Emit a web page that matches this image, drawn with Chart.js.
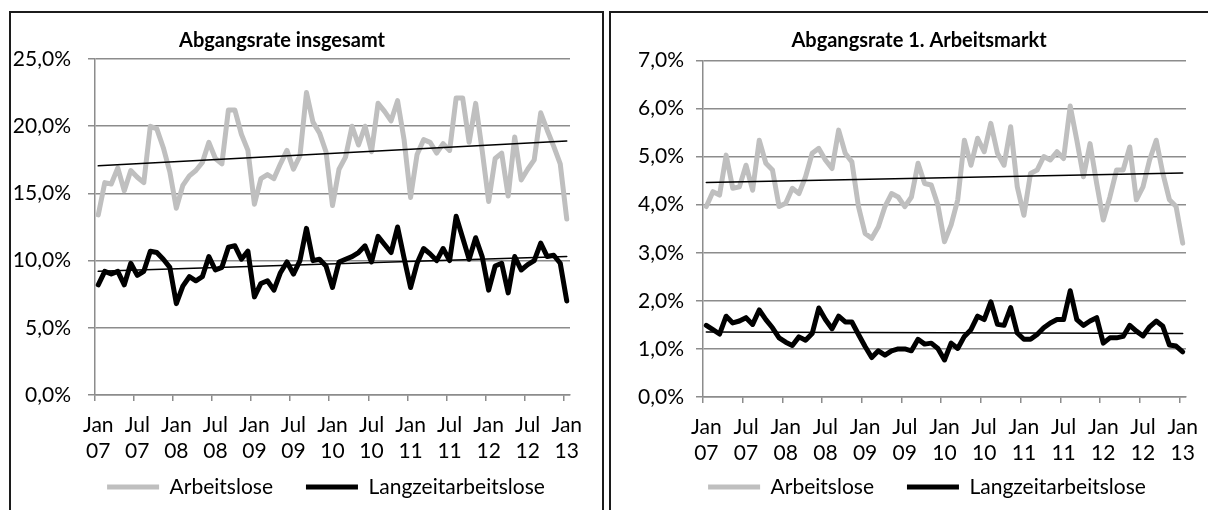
<!DOCTYPE html>
<html lang="de">
<head>
<meta charset="utf-8">
<title>Abgangsraten</title>
<script src="https://cdn.jsdelivr.net/npm/chart.js@4.4.1/dist/chart.umd.min.js"></script>
<style>
  body { margin: 0; background: #fff; width: 1208px; height: 510px; overflow: hidden; position: relative; }
  .rahmen { position: absolute; top: 11px; height: 520px; border: 2px solid #1c1c1c; box-sizing: border-box; }
  #rahmenLinks { left: 9px; width: 595px; }
  #rahmenRechts { left: 609px; width: 620px; }
  canvas { position: absolute; top: 13px; }
  #chartLinks { left: 11px; }
  #chartRechts { left: 611px; }
</style>
</head>
<body>
<div class="rahmen" id="rahmenLinks"></div>
<div class="rahmen" id="rahmenRechts"></div>
<canvas id="chartLinks" width="592" height="497"></canvas>
<canvas id="chartRechts" width="597" height="497"></canvas>
<script>
// Monate Jan 07 bis Jan 13
const monate = ['Jan', 'Feb', 'Mrz', 'Apr', 'Mai', 'Jun', 'Jul', 'Aug', 'Sep', 'Okt', 'Nov', 'Dez'];
const jahre = ['07', '08', '09', '10', '11', '12', '13'];

// Abgangsrate insgesamt (in %)
const insgesamtArbeitslose = [
  13.4, 15.8, 15.7, 16.9, 15.2, 16.7, 16.2, 15.8, 20.0, 19.8, 18.4, 16.6,
  13.9, 15.6, 16.3, 16.7, 17.3, 18.8, 17.6, 17.2, 21.2, 21.2, 19.4, 18.2,
  14.2, 16.1, 16.4, 16.1, 17.2, 18.2, 16.8, 17.8, 22.5, 20.3, 19.5, 18.1,
  14.1, 16.8, 17.7, 20.0, 18.6, 20.0, 18.1, 21.7, 21.1, 20.4, 21.9, 19.0,
  14.7, 17.9, 19.0, 18.8, 18.0, 18.7, 18.2, 22.1, 22.1, 18.8, 21.7, 18.2,
  14.4, 17.6, 18.0, 14.8, 19.2, 16.0, 16.8, 17.5, 21.0, 19.7, 18.5, 17.2,
  13.1
];
const insgesamtLangzeit = [
  8.2, 9.2, 9.0, 9.2, 8.2, 9.8, 8.9, 9.2, 10.7, 10.6, 10.1, 9.5,
  6.8, 8.1, 8.8, 8.5, 8.8, 10.3, 9.3, 9.5, 11.0, 11.1, 10.1, 10.7,
  7.3, 8.3, 8.5, 7.8, 9.1, 9.9, 9.0, 10.0, 12.4, 10.0, 10.1, 9.6,
  8.0, 9.9, 10.1, 10.3, 10.6, 11.1, 9.9, 11.8, 11.2, 10.6, 12.5, 10.2,
  8.0, 9.8, 10.9, 10.5, 10.0, 10.9, 10.0, 13.3, 11.7, 10.1, 11.7, 10.3,
  7.8, 9.6, 9.8, 7.6, 10.3, 9.3, 9.7, 10.0, 11.3, 10.3, 10.4, 9.8,
  7.0
];
// lineare Trends: Wert am Anfang und am Ende
const trendInsgesamtArbeitslose = [17.05, 18.9];
const trendInsgesamtLangzeit = [9.2, 10.3];

// Abgangsrate 1. Arbeitsmarkt (in %)
const ersterArbeitslose = [
  3.96, 4.27, 4.20, 5.03, 4.34, 4.37, 4.82, 4.30, 5.34, 4.86, 4.72, 3.96,
  4.03, 4.34, 4.23, 4.58, 5.07, 5.17, 4.93, 4.75, 5.55, 5.07, 4.89, 3.96,
  3.40, 3.30, 3.54, 3.96, 4.23, 4.16, 3.96, 4.16, 4.86, 4.44, 4.41, 3.99,
  3.23, 3.58, 4.10, 5.34, 4.82, 5.38, 5.10, 5.69, 5.07, 4.82, 5.62, 4.37,
  3.78, 4.65, 4.72, 5.00, 4.93, 5.10, 4.96, 6.05, 5.34, 4.58, 5.27, 4.44,
  3.68, 4.16, 4.72, 4.72, 5.20, 4.10, 4.37, 4.93, 5.34, 4.65, 4.10, 3.96,
  3.20
];
const ersterLangzeit = [
  1.49, 1.40, 1.31, 1.68, 1.54, 1.58, 1.65, 1.51, 1.81, 1.61, 1.44, 1.23,
  1.14, 1.07, 1.25, 1.18, 1.32, 1.85, 1.61, 1.42, 1.68, 1.56, 1.56, 1.30,
  1.05, 0.82, 0.96, 0.87, 0.96, 1.00, 1.00, 0.96, 1.20, 1.10, 1.12, 1.01,
  0.77, 1.12, 1.01, 1.26, 1.40, 1.68, 1.61, 1.98, 1.51, 1.49, 1.86, 1.33,
  1.20, 1.20, 1.30, 1.44, 1.54, 1.61, 1.61, 2.21, 1.61, 1.49, 1.58, 1.65,
  1.12, 1.23, 1.23, 1.26, 1.49, 1.37, 1.27, 1.46, 1.58, 1.47, 1.08, 1.06,
  0.94
];
const trendErsterArbeitslose = [4.46, 4.66];
const trendErsterLangzeit = [1.35, 1.32];

const kategorien = [];
jahre.forEach((jahr, j) => {
  monate.forEach(monat => {
    if (j < jahre.length - 1 || monat === 'Jan') kategorien.push(monat + ' ' + jahr);
  });
});

Chart.defaults.font.family = 'Lato, "Open Sans", sans-serif';
Chart.defaults.color = '#000';

const gitterFarbe = '#8c8c8c';

// Titel und Legende verschieben (Excel setzt sie anders als Chart.js)
const verschiebung = {
  id: 'verschiebung',
  afterLayout(chart, args, opts) {
    const t = chart.titleBlock;
    t.left += opts.titel;
    t.right += opts.titel;
    const l = chart.legend;
    l.left += opts.legende;
    l.right += opts.legende;
    l.top = opts.legendeOben;
    l.bottom = opts.legendeOben + 80;
  }
};

function trendLinie(werte) {
  return kategorien.map((k, i) => {
    if (i === 0) return werte[0];
    if (i === kategorien.length - 1) return werte[1];
    return null;
  });
}

function makeChart(id, s) {
  const ctx = document.getElementById(id).getContext('2d');
  return new Chart(ctx, {
    type: 'line',
    data: {
      labels: kategorien,
      datasets: [
        {
          label: 'Arbeitslose',
          data: s.grau,
          borderColor: '#bfbfbf',
          borderWidth: 5,
          order: 1
        },
        {
          label: 'Langzeitarbeitslose',
          data: s.schwarz,
          borderColor: '#000',
          borderWidth: 5,
          order: 1
        },
        {
          label: 'Trend Arbeitslose',
          data: trendLinie(s.trendGrau),
          borderColor: '#000',
          borderWidth: 1.5,
          spanGaps: true,
          order: 0
        },
        {
          label: 'Trend Langzeitarbeitslose',
          data: trendLinie(s.trendSchwarz),
          borderColor: '#000',
          borderWidth: 1.5,
          spanGaps: true,
          order: 0
        }
      ]
    },
    options: {
      responsive: false,
      animation: false,
      devicePixelRatio: 1,
      layout: { padding: { left: 0, right: s.rechts, top: 0, bottom: 0 } },
      elements: {
        point: { radius: 0 },
        line: { tension: 0, borderJoinStyle: 'round', borderCapStyle: 'round' }
      },
      scales: {
        x: {
          type: 'category',
          offset: true,
          grid: {
            offset: true,
            drawOnChartArea: false,
            drawTicks: true,
            tickLength: 6,
            lineWidth: 1.5,
            color: c => (c.index % 6 === 0 ? gitterFarbe : 'transparent')
          },
          border: { display: true, color: gitterFarbe, width: 1.5 },
          ticks: {
            autoSkip: false,
            maxRotation: 0,
            minRotation: 0,
            padding: 11,
            font: { size: 21, lineHeight: 1.25 },
            callback: function (value, index) {
              if (index % 6 !== 0) return '';
              return this.getLabelForValue(value).split(' ');
            }
          },
          afterFit: scale => {
            scale.height = 72;
            scale.paddingLeft = 0;
            scale.paddingRight = 0;
          }
        },
        y: {
          min: 0,
          max: s.max,
          ticks: {
            stepSize: s.schritt,
            padding: s.abstand,
            font: { size: 21 },
            callback: v => v.toFixed(1).replace('.', ',') + '%'
          },
          grid: { color: gitterFarbe, lineWidth: 1.5, tickLength: 7 },
          border: { display: true, color: gitterFarbe, width: 1.5 },
          afterFit: scale => {
            scale.width = s.achse;
            scale.paddingTop = 0;
            scale.paddingBottom = 0;
          }
        }
      },
      plugins: {
        tooltip: { enabled: false },
        title: {
          display: true,
          text: s.titel,
          font: { size: 20, weight: 'bold', lineHeight: 1.2 },
          padding: { top: 16, bottom: s.titelAbstand }
        },
        legend: {
          position: 'bottom',
          maxHeight: s.legendeHoehe,
          labels: {
            filter: item => item.datasetIndex < 2,
            usePointStyle: true,
            pointStyle: 'line',
            pointStyleWidth: 52,
            padding: 33,
            font: { size: 21 }
          }
        },
        verschiebung: { titel: s.titelVersatz, legende: s.legendeVersatz, legendeOben: 430.5 }
      }
    },
    plugins: [verschiebung]
  });
}

makeChart('chartLinks', {
  titel: 'Abgangsrate insgesamt',
  grau: insgesamtArbeitslose,
  schwarz: insgesamtLangzeit,
  trendGrau: trendInsgesamtArbeitslose,
  trendSchwarz: trendInsgesamtLangzeit,
  max: 25,
  schritt: 5,
  achse: 84,
  abstand: 17,
  rechts: 33,
  legendeHoehe: 43,
  titelAbstand: 6,
  titelVersatz: -8.5,
  legendeVersatz: 35.5
});

makeChart('chartRechts', {
  titel: 'Abgangsrate 1. Arbeitsmarkt',
  grau: ersterArbeitslose,
  schwarz: ersterLangzeit,
  trendGrau: trendErsterArbeitslose,
  trendSchwarz: trendErsterLangzeit,
  max: 7,
  schritt: 1,
  achse: 92,
  abstand: 12,
  rechts: 22,
  legendeHoehe: 41,
  titelAbstand: 7.4,
  titelVersatz: 20.5,
  legendeVersatz: 28.5
});
</script>
</body>
</html>
